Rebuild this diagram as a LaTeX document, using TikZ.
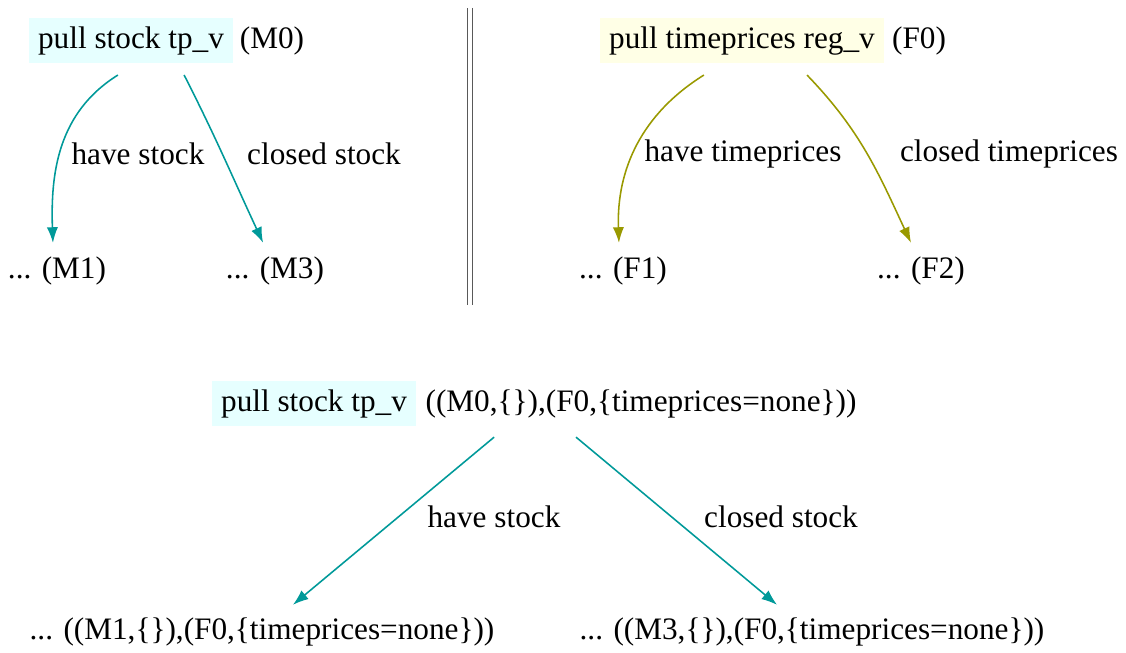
\documentclass[tikz,border=0pt]{standalone}
\usepackage{fontspec}
\setmainfont{Liberation Serif}
\usetikzlibrary{arrows.meta}

\definecolor{mline}{RGB}{0,153,153}
\definecolor{fline}{RGB}{153,153,0}
\definecolor{mfill}{RGB}{230,255,255}
\definecolor{ffill}{RGB}{255,255,230}

\tikzset{
  state/.style={inner sep=2pt, text height=7pt, text depth=2.2pt},
  mbox/.style={state, fill=mfill, inner xsep=3pt, inner ysep=2.6pt},
  fbox/.style={state, fill=ffill, inner xsep=3pt, inner ysep=2.6pt},
  marrow/.style={-{Latex[length=5pt,width=3.6pt]}, line width=0.5pt, draw=mline},
  farrow/.style={-{Latex[length=5pt,width=3.6pt]}, line width=0.5pt, draw=fline},
}

\begin{document}
\begin{tikzpicture}[x=0.32pt,y=-0.32pt]
\useasboundingbox (0,0) rectangle (1126,653);

% machine
\node[mbox] (m0) at (131,41) {pull stock tp\_v};
\node[state] (m0s) at (272,41) {(M0)};
\node[state] (m1) at (57,271) {... (M1)};
\node[state] (m3) at (275,271) {... (M3)};
\node[state] (hs) at (138,157) {have stock};
\node[state] (cs) at (324,157) {closed stock};
\draw[marrow] ([xshift=-4.2pt,yshift=-3.5pt]m0.south) to[out=-148,in=92] ([xshift=-1.3pt,yshift=2.2pt]m1.north);
\draw[marrow] ([xshift=17pt,yshift=-3.5pt]m0.south) to[out=-63,in=115] ([xshift=-3.8pt,yshift=2.2pt]m3.north);

% separator
\draw[double, double distance=1.2pt, gray!70!black] (470,8) -- (470,305);

% feature
\node[fbox] (f0) at (742,41) {pull timeprices reg\_v};
\node[state] (f0s) at (919,41) {(F0)};
\node[state] (f1) at (623,271) {... (F1)};
\node[state] (f2) at (921,271) {... (F2)};
\node[state] (ht) at (743,154) {have timeprices};
\node[state] (ct) at (1009,154) {closed timeprices};
\draw[farrow] ([xshift=-12.2pt,yshift=-3.5pt]f0.south) to[out=-148,in=92] ([xshift=-1.3pt,yshift=2.2pt]f1.north);
\draw[farrow] ([xshift=20.8pt,yshift=-3.5pt]f0.south) to[out=-46,in=115] ([xshift=-3.2pt,yshift=2.2pt]f2.north);

% product
\node[mbox] (p0) at (314,404) {pull stock tp\_v};
\node[state] (p0s) at (641,404) {((M0,\{\}),(F0,\{timeprices=none\}))};
\node[state] (p1) at (262,632) {... ((M1,\{\}),(F0,\{timeprices=none\}))};
\node[state] (p3) at (812,632) {... ((M3,\{\}),(F0,\{timeprices=none\}))};
\node[state] (hs2) at (494,520) {have stock};
\node[state] (cs2) at (781,520) {closed stock};
\draw[marrow] ([xshift=-47pt,yshift=-3.8pt]p0s.south) -- ([xshift=9.9pt,yshift=1.9pt]p1.north);
\draw[marrow] ([xshift=-20.8pt,yshift=-3.8pt]p0s.south) -- ([xshift=-11.2pt,yshift=1.9pt]p3.north);
\end{tikzpicture}
\end{document}
